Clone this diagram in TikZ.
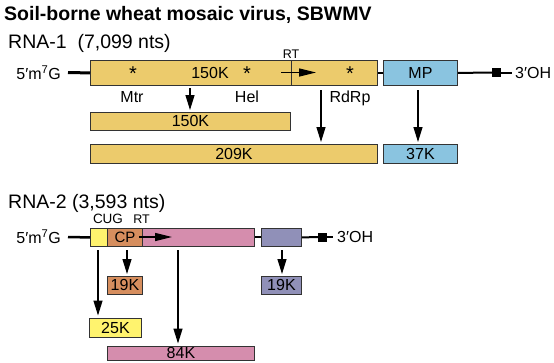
\documentclass[tikz,border=0pt]{standalone}
\usepackage{fontspec}
\setmainfont{Liberation Sans}
\usetikzlibrary{arrows.meta,calc}
\definecolor{gold}{HTML}{ECCB6C}
\definecolor{mpblue}{HTML}{8AC4E0}
\definecolor{cppink}{HTML}{D58DAD}
\definecolor{orfpurple}{HTML}{9090B8}
\definecolor{cporange}{HTML}{D68E5E}
\definecolor{cugyellow}{HTML}{FFF36E}
\definecolor{edge}{HTML}{333333}
\newcommand{\fs}[1]{\fontsize{#1}{#1}\selectfont}
\begin{document}
\begin{tikzpicture}[x=1pt,y=-1pt,
  box/.style={draw=edge, line width=0.9pt, inner sep=0pt, anchor=north west, font=\fs{16}},
  lab/.style={inner sep=0pt, font=\fs{16}},
  small/.style={inner sep=0pt, font=\fs{12.5}},
  big/.style={inner sep=0pt, font=\fs{19.5}, anchor=base west},
  star/.style={inner sep=0pt, font=\fs{20}},
  arr/.style={line width=1.3pt, -{Triangle[width=9pt,length=15pt]}},
  inarr/.style={line width=1.3pt, -{Triangle[width=8pt,length=17pt]}},
  endsq/.style={fill=black, minimum size=9pt, inner sep=0pt}]
\useasboundingbox (0,0) rectangle (554,362);

% titles
\node[big, font=\bfseries\fs{19.5}] (title) at (4,20) {Soil-borne wheat mosaic virus, SBWMV};
\node[big] (rna1) at (8,48) {RNA-1\ \ (7,099 nts)};
\node[big] (rna2) at (8,208) {RNA-2 (3,593 nts)};

% ---------- RNA-1 ----------
\node[box, fill=gold, minimum width=201pt, minimum height=25pt] (r1a) at (90,60) {};
\node[box, fill=gold, minimum width=86pt, minimum height=25pt] (r1b) at (291,60) {};
\node[box, fill=mpblue, minimum width=74pt, minimum height=25pt] (mp) at (383,60) {MP};
\node[lab] (t150) at (210,72.5) {150K};
\node[star] (s1) at (133,74) {*};
\node[star] (s2) at (247,74) {*};
\node[star] (s3) at (350,74) {*};
\node[small, anchor=base] (rt1) at (291,58) {RT};
\coordinate (rts) at (281,72.5);
\coordinate (rte) at (316,72.5);
\draw[inarr] (rts) -- (rte);

\node[lab, anchor=east] (five1) at (61,73) {5′m\textsuperscript{7}G};
\coordinate (l1) at (68,72.5);
\draw[line width=3pt] (l1) -- (r1a.west);
\draw[line width=2pt] (r1b.east) -- (mp.west);
\node[endsq] (sq1) at (496.5,72.5) {};
\draw[line width=2pt] (mp.east) -- (sq1.west);
\coordinate (e1) at (512,72.5);
\draw[line width=2pt] (sq1.east) -- (e1);
\node[lab, anchor=west] (three1) at (515,73) {3′OH};

\node[lab, anchor=base] (mtr) at (132,102) {Mtr};
\node[lab, anchor=base] (hel) at (247,102) {Hel};
\node[lab, anchor=base] (rdrp) at (350,102) {RdRp};

\node[box, fill=gold, minimum width=200pt, minimum height=18pt] (p150) at (90,112) {150K};
\node[box, fill=gold, minimum width=287pt, minimum height=19pt] (p209) at (90,144) {209K};
\node[box, fill=mpblue, minimum width=74pt, minimum height=19pt] (p37) at (383,144) {37K};

\coordinate (a1) at (190,88);
\coordinate (a2) at (321,90);
\coordinate (a3) at (418,90);
\draw[arr, shorten >=2pt] (a1) -- (a1 |- p150.north);
\draw[arr, shorten >=2pt] (a2) -- (a2 |- p209.north);
\draw[arr, shorten >=2pt] (a3) -- (a3 |- p37.north);

% ---------- RNA-2 ----------
\node[box, fill=cugyellow, minimum width=17pt, minimum height=18pt] (cug) at (90,228) {};
\node[box, fill=cporange, minimum width=35pt, minimum height=18pt, font=\fs{15}] (cp) at (107,228) {CP};
\node[box, fill=cppink, minimum width=112pt, minimum height=18pt] (rt) at (142,228) {};
\node[box, fill=orfpurple, minimum width=40pt, minimum height=18pt] (pu) at (261,228) {};
\node[small, anchor=base, font=\fs{13.5}] (cuglab) at (108,223) {CUG};
\node[small, anchor=base] (rt2) at (141.5,223) {RT};
\coordinate (rt2s) at (139,237);
\coordinate (rt2e) at (172,237);
\draw[inarr] (rt2s) -- (rt2e);

\node[lab, anchor=east] (five2) at (61,237) {5′m\textsuperscript{7}G};
\coordinate (l2) at (68,237);
\draw[line width=2.5pt] (l2) -- (cug.west);
\draw[line width=2pt] (rt.east) -- (pu.west);
\node[endsq] (sq2) at (322.5,237) {};
\draw[line width=2pt] (pu.east) -- (sq2.west);
\coordinate (e2) at (333,237);
\draw[line width=2pt] (sq2.east) -- (e2);
\node[lab, anchor=west] (three2) at (337,237) {3′OH};

\node[box, fill=cporange, minimum width=35pt, minimum height=18pt] (o19) at (107,276) {19K};
\node[box, fill=orfpurple, minimum width=40pt, minimum height=18pt] (pu19) at (261,276) {19K};
\node[box, fill=cugyellow, minimum width=52pt, minimum height=19pt] (y25) at (89,318) {25K};
\node[box, fill=cppink, minimum width=147pt, minimum height=14pt] (p84) at (107,346) {84K};

\coordinate (b1) at (98,250);
\coordinate (b2) at (127,250);
\coordinate (b3) at (178,250);
\coordinate (b4) at (282,250);
\draw[arr, shorten >=2.5pt] (b1) -- (b1 |- y25.north);
\draw[arr, shorten >=2pt] (b2) -- (b2 |- o19.north);
\draw[arr, shorten >=2.5pt] (b3) -- (b3 |- p84.north);
\draw[arr, shorten >=2pt] (b4) -- (b4 |- pu19.north);
\end{tikzpicture}
\end{document}
